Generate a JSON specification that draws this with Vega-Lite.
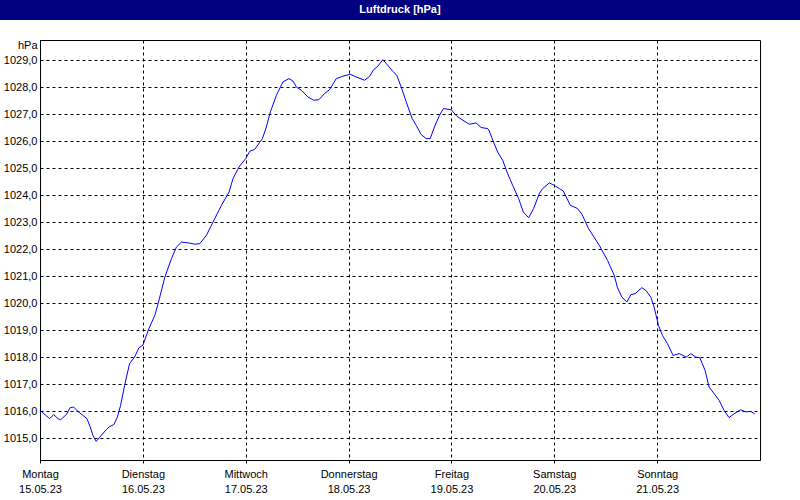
{
"$schema": "https://vega.github.io/schema/vega-lite/v6.json",
"background": "white",
"padding": 0,
"spacing": 20,
"bounds": "flush",
"config": {"font": "Liberation Sans"},
"datasets": {
"title": [{"t": "Luftdruck [hPa]"}],
"none": [],
"pressure": [
{"h":0.0,"p":1016.04},{"h":2.26,"p":1015.73},{"h":3.19,"p":1015.88},{"h":4.19,"p":1015.73},{"h":4.82,"p":1015.69},{"h":6.13,"p":1015.88},{"h":7.06,"p":1016.14},{"h":7.85,"p":1016.16},{"h":8.85,"p":1016.0},{"h":10.02,"p":1015.85},{"h":10.95,"p":1015.73},{"h":11.72,"p":1015.42},{"h":12.35,"p":1015.11},{"h":13.12,"p":1014.89},{"h":14.28,"p":1015.11},{"h":15.45,"p":1015.32},{"h":16.24,"p":1015.44},{"h":17.24,"p":1015.51},{"h":18.01,"p":1015.77},{"h":18.8,"p":1016.22},{"h":19.74,"p":1016.96},{"h":20.9,"p":1017.77},{"h":22.07,"p":1018.01},{"h":23.07,"p":1018.35},{"h":24.0,"p":1018.45},{"h":24.23,"p":1018.54},{"h":25.24,"p":1019.0},{"h":26.8,"p":1019.56},{"h":27.56,"p":1019.99},{"h":29.13,"p":1020.97},{"h":30.69,"p":1021.66},{"h":31.85,"p":1022.09},{"h":33.02,"p":1022.27},{"h":34.95,"p":1022.23},{"h":36.12,"p":1022.19},{"h":37.28,"p":1022.21},{"h":38.84,"p":1022.52},{"h":40.38,"p":1023.01},{"h":42.34,"p":1023.63},{"h":44.11,"p":1024.12},{"h":45.04,"p":1024.62},{"h":46.44,"p":1025.05},{"h":48.0,"p":1025.36},{"h":48.93,"p":1025.63},{"h":50.1,"p":1025.7},{"h":51.89,"p":1026.1},{"h":52.82,"p":1026.53},{"h":53.76,"p":1027.09},{"h":55.15,"p":1027.7},{"h":56.69,"p":1028.2},{"h":58.09,"p":1028.32},{"h":59.02,"p":1028.23},{"h":59.81,"p":1028.01},{"h":60.98,"p":1027.89},{"h":62.52,"p":1027.64},{"h":63.84,"p":1027.52},{"h":65.08,"p":1027.54},{"h":66.41,"p":1027.77},{"h":67.57,"p":1027.91},{"h":69.13,"p":1028.32},{"h":70.67,"p":1028.41},{"h":72.4,"p":1028.48},{"h":73.8,"p":1028.38},{"h":75.73,"p":1028.26},{"h":76.89,"p":1028.4},{"h":77.83,"p":1028.65},{"h":78.83,"p":1028.78},{"h":79.99,"p":1029.02},{"h":81.16,"p":1028.81},{"h":82.32,"p":1028.59},{"h":83.26,"p":1028.44},{"h":84.28,"p":1028.01},{"h":85.45,"p":1027.46},{"h":86.84,"p":1026.84},{"h":87.78,"p":1026.59},{"h":88.94,"p":1026.25},{"h":90.11,"p":1026.1},{"h":91.04,"p":1026.1},{"h":92.04,"p":1026.53},{"h":93.2,"p":1026.96},{"h":94.14,"p":1027.21},{"h":95.93,"p":1027.17},{"h":97.24,"p":1026.93},{"h":98.49,"p":1026.8},{"h":100.19,"p":1026.63},{"h":101.75,"p":1026.68},{"h":102.92,"p":1026.51},{"h":104.46,"p":1026.47},{"h":104.85,"p":1026.38},{"h":105.63,"p":1026.05},{"h":106.79,"p":1025.6},{"h":107.96,"p":1025.3},{"h":109.12,"p":1024.8},{"h":110.29,"p":1024.37},{"h":111.68,"p":1023.88},{"h":112.78,"p":1023.38},{"h":114.01,"p":1023.17},{"h":115.18,"p":1023.51},{"h":116.5,"p":1024.06},{"h":117.28,"p":1024.25},{"h":118.84,"p":1024.46},{"h":120.0,"p":1024.37},{"h":121.17,"p":1024.25},{"h":122.1,"p":1024.16},{"h":123.73,"p":1023.63},{"h":125.43,"p":1023.51},{"h":126.45,"p":1023.3},{"h":127.99,"p":1022.77},{"h":130.49,"p":1022.15},{"h":132.42,"p":1021.59},{"h":133.98,"p":1021.04},{"h":134.75,"p":1020.58},{"h":135.78,"p":1020.23},{"h":136.94,"p":1020.05},{"h":137.87,"p":1020.32},{"h":138.87,"p":1020.36},{"h":140.44,"p":1020.58},{"h":141.37,"p":1020.48},{"h":142.53,"p":1020.23},{"h":143.3,"p":1019.86},{"h":144.3,"p":1019.19},{"h":145.24,"p":1018.81},{"h":146.4,"p":1018.51},{"h":147.73,"p":1018.07},{"h":149.13,"p":1018.14},{"h":150.83,"p":1018.01},{"h":151.85,"p":1018.14},{"h":153.02,"p":1018.01},{"h":153.95,"p":1017.99},{"h":155.18,"p":1017.52},{"h":156.12,"p":1016.9},{"h":157.28,"p":1016.66},{"h":158.45,"p":1016.41},{"h":159.61,"p":1016.04},{"h":160.77,"p":1015.77},{"h":161.94,"p":1015.91},{"h":163.5,"p":1016.06},{"h":164.73,"p":1015.98},{"h":165.83,"p":1016.0},{"h":166.76,"p":1015.91}
]
},
"vconcat": [
{
"width": 800,
"height": 20,
"view": {"fill": "#000080", "stroke": null},
"data": {"name": "title"},
"mark": {"type": "text", "color": "white", "fontWeight": "bold", "fontSize": 11, "font": "Liberation Sans", "align": "center", "baseline": "middle"},
"encoding": {"text": {"field": "t"}}
},
{
"hconcat": [
{
"width": 20,
"height": 420,
"view": {"fill": null, "stroke": null},
"data": {"name": "none"},
"mark": "point",
"encoding": {}
},
{
"width": 720,
"height": 420,
"view": {"fill": "white", "stroke": "black", "strokeWidth": 1},
"data": {"name": "pressure"},
"mark": {"type": "line", "color": "#0000ff", "strokeWidth": 1, "clip": true},
"encoding": {
"x": {"field": "h", "type": "quantitative",
"scale": {"domain": [0, 168], "nice": false, "zero": false},
"axis": {"title": null, "values": [0, 24, 48, 72, 96, 120, 144],
"labelExpr": "[['Montag','Dienstag','Mittwoch','Donnerstag','Freitag','Samstag','Sonntag'][round(datum.value/24)], ['15.05.23','16.05.23','17.05.23','18.05.23','19.05.23','20.05.23','21.05.23'][round(datum.value/24)]]",
"labelFlush": false, "labelOverlap": false, "labelFontSize": 11, "labelFont": "Liberation Sans", "labelColor": "black", "labelLineHeight": 15, "labelPadding": 5, "labelBaseline": "top",
"tickSize": 3, "tickColor": "black", "tickDash": [3, 3],
"domainColor": "black", "grid": true, "gridColor": "black", "gridDash": [3, 3], "gridOpacity": 1, "gridWidth": 1}},
"y": {"field": "p", "type": "quantitative",
"scale": {"domain": [1014.2, 1029.75], "nice": false, "zero": false},
"axis": {"title": "hPa", "titleAngle": 0, "titleX": -3, "titleY": 5, "titleAlign": "right", "titleBaseline": "middle", "titleFontWeight": "normal", "titleFontSize": 11, "titleFont": "Liberation Sans", "titleColor": "black",
"values": [1015, 1016, 1017, 1018, 1019, 1020, 1021, 1022, 1023, 1024, 1025, 1026, 1027, 1028, 1029],
"labelExpr": "replace(format(datum.value, '.1f'), '.', ',')",
"labelFontSize": 11, "labelFont": "Liberation Sans", "labelColor": "black", "labelPadding": 3, "ticks": false,
"labelOverlap": false,
"domainColor": "black", "grid": true, "gridColor": "black", "gridDash": [3, 3], "gridOpacity": 1, "gridWidth": 1}}
}
}
],
"spacing": 20,
"bounds": "flush"
}
]
}
